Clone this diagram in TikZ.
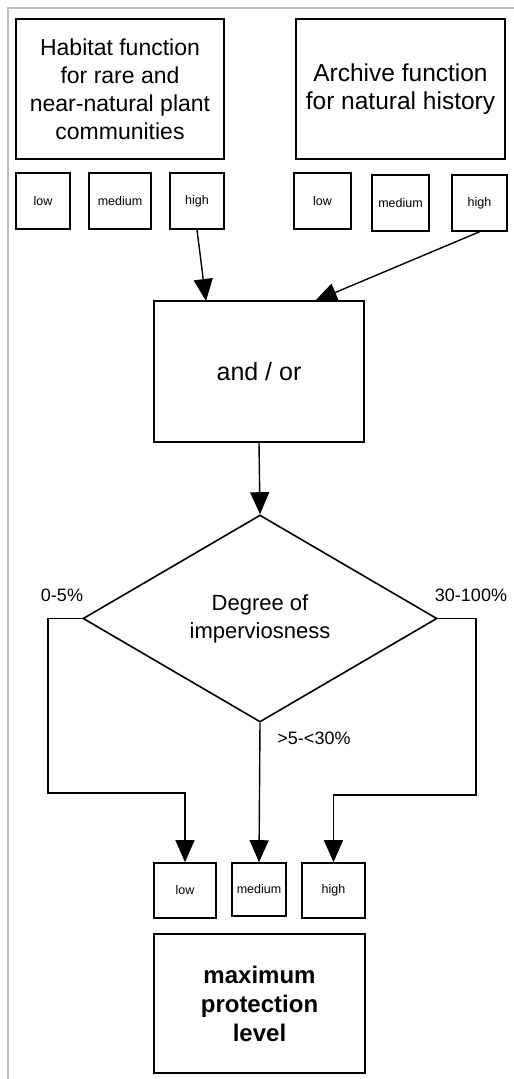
\documentclass[tikz,border=0pt]{standalone}
\usepackage{fontspec}
\setmainfont{Liberation Sans}
\usetikzlibrary{shapes.geometric,arrows.meta}
\begin{document}
\begin{tikzpicture}[x=1pt,y=-1pt,
  box/.style={draw,line width=1.6pt,inner sep=0pt,align=center},
  bigtxt/.style={font=\fontsize{23pt}{28pt}\selectfont},
  smalltxt/.style={font=\fontsize{12.5pt}{14pt}\selectfont},
  lbl/.style={font=\fontsize{18pt}{20pt}\selectfont,inner sep=0pt},
  arr/.style={-{Triangle[length=22pt,width=19pt]},line width=1.4pt},
  conn/.style={line width=1.4pt}
]
\useasboundingbox (0,0) rectangle (514,1079);
\draw[gray!50,line width=2pt] (8,1079) -- (8,8) -- (514,8);

% top boxes
\node[box,bigtxt,minimum width=208pt,minimum height=140pt] (hab) at (120,89)
  {Habitat function\\for rare and\\near-natural plant\\communities};
\node[box,font=\fontsize{24.5pt}{28pt}\selectfont,minimum width=209pt,minimum height=140pt] (arc) at (400.5,89)
  {Archive function\\for natural history};

% small boxes, row 1
\node[box,smalltxt,minimum width=54pt,minimum height=56pt] (lo1) at (43,201) {low};
\node[box,smalltxt,minimum width=62pt,minimum height=56pt] (me1) at (120,201) {medium};
\node[box,smalltxt,minimum width=54pt,minimum height=56pt] (hi1) at (197,201) {high};
\node[box,smalltxt,minimum width=57pt,minimum height=56pt] (lo2) at (322.5,201) {low};
\node[box,smalltxt,minimum width=57pt,minimum height=56pt] (me2) at (400.5,203) {medium};
\node[box,smalltxt,minimum width=55pt,minimum height=56pt] (hi2) at (479.5,203) {high};

% and/or
\node[box,font=\fontsize{25pt}{28pt}\selectfont,minimum width=210pt,minimum height=141pt] (andor) at (259,371.5) {and / or};
\coordinate (in1) at (206,301);
\coordinate (in2) at (315,301);
\draw[arr] (hi1.south) -- (in1);
\draw[arr] (hi2.south) -- (in2);

% diamond
\node[diamond,draw,line width=1.6pt,inner sep=0pt,minimum width=354pt,minimum height=207pt,
  align=center,font=\fontsize{22pt}{28pt}\selectfont] (dia) at (260,618.5) {Degree of\\imperviosness};
\draw[arr] (andor.south) -- (dia.north);

% bottom boxes
\node[box,smalltxt,minimum width=62pt,minimum height=55pt] (lo3) at (185,890.5) {low};
\node[box,smalltxt,minimum width=54pt,minimum height=53pt] (me3) at (259,889.5) {medium};
\node[box,smalltxt,minimum width=63pt,minimum height=55pt] (hi3) at (333.5,890.5) {high};
\node[box,font=\bfseries\fontsize{24pt}{29pt}\selectfont,minimum width=211pt,minimum height=139pt] (maxp) at (259.5,1003.5)
  {maximum\\protection\\level};

% connectors from diamond
\coordinate (l1) at (48,618.5);
\coordinate (l2) at (48,793);
\coordinate (r1) at (476,618.5);
\coordinate (r2) at (476,795);
\draw[arr] (dia.west) -- (l1) -- (l2) -| (lo3.north);
\draw[arr] (dia.east) -- (r1) -- (r2) -| (hi3.north);
\draw[arr] (dia.south) -- (me3.north);

% labels
\node[lbl] (t1) at (62,595) {0-5\%};
\node[lbl] (t2) at (471,595) {30-100\%};
\node[lbl] (t3) at (314,738) {>5-<30\%};
\end{tikzpicture}
\end{document}
